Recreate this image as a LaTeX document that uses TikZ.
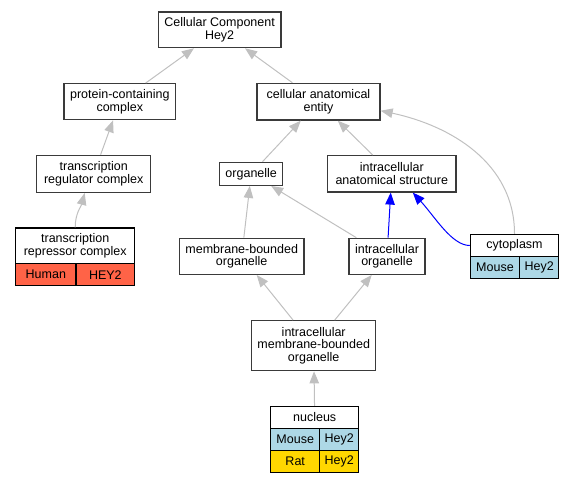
\documentclass[tikz,border=0pt]{standalone}
\usepackage{fontspec}
\setmainfont{Liberation Sans}
\usetikzlibrary{arrows.meta}
\definecolor{edgegray}{HTML}{C0C0C0}
\definecolor{tomatored}{HTML}{FF6347}
\definecolor{lblue}{HTML}{ADD8E6}
\definecolor{goldy}{HTML}{FFD700}
\definecolor{boxline}{HTML}{3A3A3A}
\begin{document}
\begin{tikzpicture}[x=1pt,y=-1pt,
  every node/.style={font=\fontsize{12.5}{12.8}\selectfont, inner sep=0pt, align=center},
  box/.style={draw=boxline, line width=1.3pt, fill=white, rectangle},
  cell/.style={draw=black, line width=1.1pt, rectangle},
  isa/.style={draw=edgegray, line width=1pt, -{Triangle[length=12pt,width=9.5pt]}},
  bl/.style={draw=blue, line width=1pt, -{Triangle[length=12pt,width=9.5pt]}}]
\useasboundingbox (0,0) rectangle (575,483);
% plain boxes
\node[box, minimum width=122.7pt, minimum height=35.7pt] (cc) at (219.6,29.8) {Cellular Component\\Hey2};
\node[box, minimum width=111.7pt, minimum height=36pt] (pcc) at (119.8,101.7) {protein-containing\\complex};
\node[box, minimum width=123pt, minimum height=36.7pt] (cae) at (318.5,101.7) {cellular anatomical\\entity};
\node[box, minimum width=114pt, minimum height=37pt] (trc) at (93.7,173.8) {transcription\\regulator complex};
\node[box, minimum width=63pt, minimum height=23pt] (org) at (251.2,173.8) {organelle};
\node[box, minimum width=128.3pt, minimum height=36.3pt] (ias) at (391.8,173.8) {intracellular\\anatomical structure};
\node[box, minimum width=124.7pt, minimum height=36pt] (mbo) at (241.7,256.3) {membrane-bounded\\organelle};
\node[box, minimum width=76pt, minimum height=36pt] (io) at (387,256.3) {intracellular\\organelle};
\node[box, minimum width=124pt, minimum height=50pt] (imbo) at (313.7,345.7) {intracellular\\membrane-bounded\\organelle};
% record: transcription repressor complex
\node[cell, fill=white, minimum width=119pt, minimum height=35.7pt] (treph) at (75.2,245.8) {transcription\\repressor complex};
\node[cell, fill=tomatored, minimum width=60.3pt, minimum height=22pt] (trepa) at (45.85,274.7) {Human};
\node[cell, fill=tomatored, minimum width=58.7pt, minimum height=22pt] (trepb) at (105.35,274.7) {HEY2};
% record: cytoplasm
\node[cell, fill=white, minimum width=88.4pt, minimum height=22.4pt] (cytoh) at (514.5,245.5) {cytoplasm};
\node[cell, fill=lblue, minimum width=49.4pt, minimum height=22pt] (cytoa) at (495,267.7) {Mouse};
\node[cell, fill=lblue, minimum width=39pt, minimum height=22pt] (cytob) at (539.2,267.7) {Hey2};
% record: nucleus
\node[cell, fill=white, minimum width=88pt, minimum height=22.4pt] (nuch) at (314.7,417.5) {nucleus};
\node[cell, fill=lblue, minimum width=49pt, minimum height=21.6pt] (nuca) at (295.2,439.5) {Mouse};
\node[cell, fill=lblue, minimum width=39pt, minimum height=21.6pt] (nucb) at (339.2,439.5) {Hey2};
\node[cell, fill=goldy, minimum width=49pt, minimum height=21.7pt] (nucc) at (295.2,461.2) {Rat};
\node[cell, fill=goldy, minimum width=39pt, minimum height=21.7pt] (nucd) at (339.2,461.2) {Hey2};
% edges
\draw[isa] (pcc) -- (cc);
\draw[isa] (cae) -- (cc);
\draw[isa] (trc) -- (pcc);
\draw[isa] (treph.north) to[out=90,in=-105] ([xshift=-9pt]trc.south);
\draw[isa] (org) -- (cae);
\draw[isa] (ias) -- (cae);
\draw[isa] (cytoh.north) to[out=90,in=-12] ([yshift=-9pt]cae.east);
\draw[isa] (mbo) -- (org);
\draw[isa] (io) -- (org);
\draw[bl] (io) -- (ias);
\draw[bl] (cytoh.west) .. controls ([xshift=-18pt]cytoh.west) and ([xshift=43pt,yshift=-24pt]ias.south) .. ([xshift=21pt]ias.south);
\draw[isa] (imbo) -- (mbo);
\draw[isa] (imbo) -- (io);
\draw[isa] (nuch) -- (imbo);
\end{tikzpicture}
\end{document}
